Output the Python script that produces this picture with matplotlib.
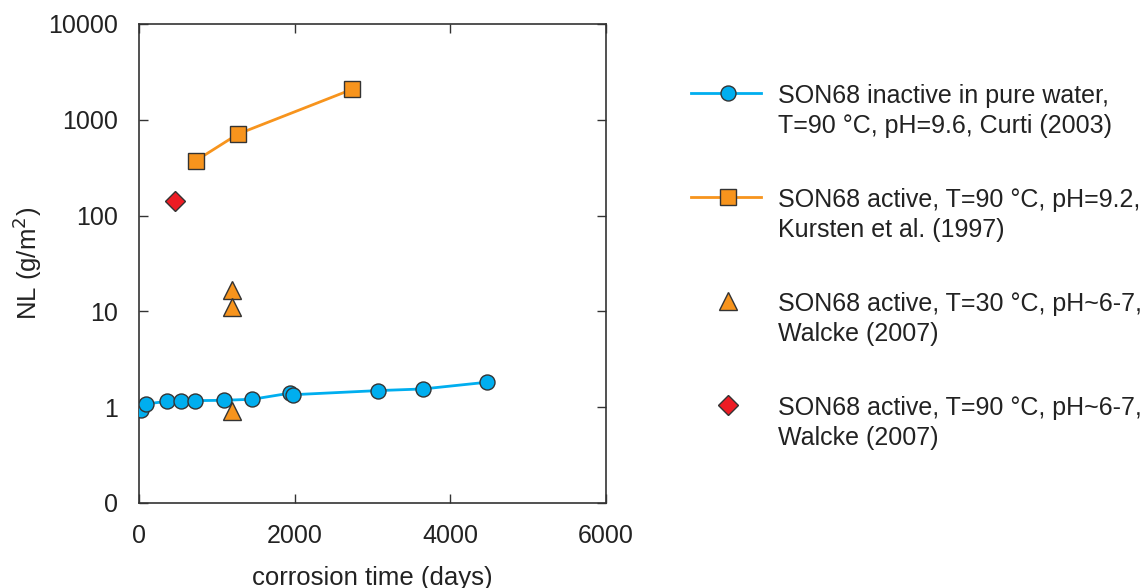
import numpy as np
import matplotlib.pyplot as plt
from matplotlib.lines import Line2D
from matplotlib.ticker import FixedLocator, NullLocator

plt.rcParams['font.family'] = ['Liberation Sans', 'DejaVu Sans']

# Curti (2003): SON68 inactivo en agua pura
t_curti = [22, 86, 360, 545, 725, 1093, 1458, 1937, 1980, 3072, 3650, 4465]
nl_curti = [0.94, 1.08, 1.15, 1.17, 1.17, 1.18, 1.21, 1.40, 1.35, 1.49, 1.55, 1.82]

# Kursten et al. (1997): SON68 activo, 90 °C
t_kursten = [729, 1273, 2738]
nl_kursten = [374, 711, 2080]

# Walcke (2007): SON68 activo, 30 °C
t_walcke30 = [1200, 1200, 1200]
nl_walcke30 = [16.7, 11.2, 0.92]

# Walcke (2007): SON68 activo, 90 °C
t_walcke90 = [468]
nl_walcke90 = [143]

labels = [
    ['SON68 inactive in pure water,', 'T=90 °C, pH=9.6, Curti (2003)'],
    ['SON68 active, T=90 °C, pH=9.2,', 'Kursten et al. (1997)'],
    ['SON68 active, T=30 °C, pH~6-7,', 'Walcke (2007)'],
    ['SON68 active, T=90 °C, pH~6-7,', 'Walcke (2007)'],
]

yticks = [0.1, 1, 10, 100, 1000, 10000]
ytick_labels = ['0', '1', '10', '100', '1000', '10000']
xticks = [0, 2000, 4000, 6000]

blue = '#00AEEF'
orange = '#F7941D'
red = '#ED1C24'
edge = '#333333'
txtc = '#222222'

estilos = [
    dict(ls='-', marker='o', color=blue, ms=10.8, mfc=blue),
    dict(ls='-', marker='s', color=orange, ms=11.5, mfc=orange),
    dict(ls='none', marker='^', color=orange, ms=12.5, mfc=orange),
    dict(ls='none', marker='D', color=red, ms=10, mfc=red),
]
datos = [(t_curti, nl_curti), (t_kursten, nl_kursten),
         (t_walcke30, nl_walcke30), (t_walcke90, nl_walcke90)]

fig = plt.figure(figsize=(11.46, 5.88), dpi=100)
W, H = 1146, 588
ax = fig.add_axes([0.1213, 0.1446, 0.4075, 0.8146])

for (t, nl), est in zip(datos, estilos):
    ax.plot(t, nl, lw=2, mec=edge, mew=1, zorder=3, **est)

ax.set_yscale('log')
ax.set_ylim(0.1, 10000)
ax.set_xlim(0, 6000)
ax.yaxis.set_major_locator(FixedLocator(yticks))
ax.yaxis.set_minor_locator(NullLocator())
ax.set_yticklabels(ytick_labels)
ax.set_xticks(xticks)

ax.tick_params(direction='in', length=6.5, width=1, labelsize=18, top=True, right=True,
               color='#333333', labelcolor=txtc, pad=15)
for sp in ax.spines.values():
    sp.set_linewidth(1.2)
    sp.set_color('#333333')

ax.set_xlabel('corrosion time (days)', fontsize=18.5, color=txtc, labelpad=13)
ax.set_ylabel('NL (g/m$^2$)', fontsize=18.5, color=txtc, labelpad=3)

# Leyenda a mano: el símbolo va alineado con la primera línea del texto
y0, paso, interlinea = 93, 104, 31
for i, (est, lab) in enumerate(zip(estilos, labels)):
    y = 1 - (y0 + paso * i) / H
    if est['ls'] == '-':
        fig.add_artist(Line2D([691 / W, 761 / W], [y, y], color=est['color'], lw=2,
                              transform=fig.transFigure))
    fig.add_artist(Line2D([728 / W], [y], ls='none', marker=est['marker'], ms=est['ms'],
                          mfc=est['mfc'], mec=edge, mew=1, transform=fig.transFigure))
    for k, linea in enumerate(lab):
        fig.text(778 / W, 1 - (y0 + paso * i + interlinea * k) / H, linea, fontsize=18,
                 color=txtc, va='center_baseline', ha='left')

fig.savefig('out.png', dpi=100)
